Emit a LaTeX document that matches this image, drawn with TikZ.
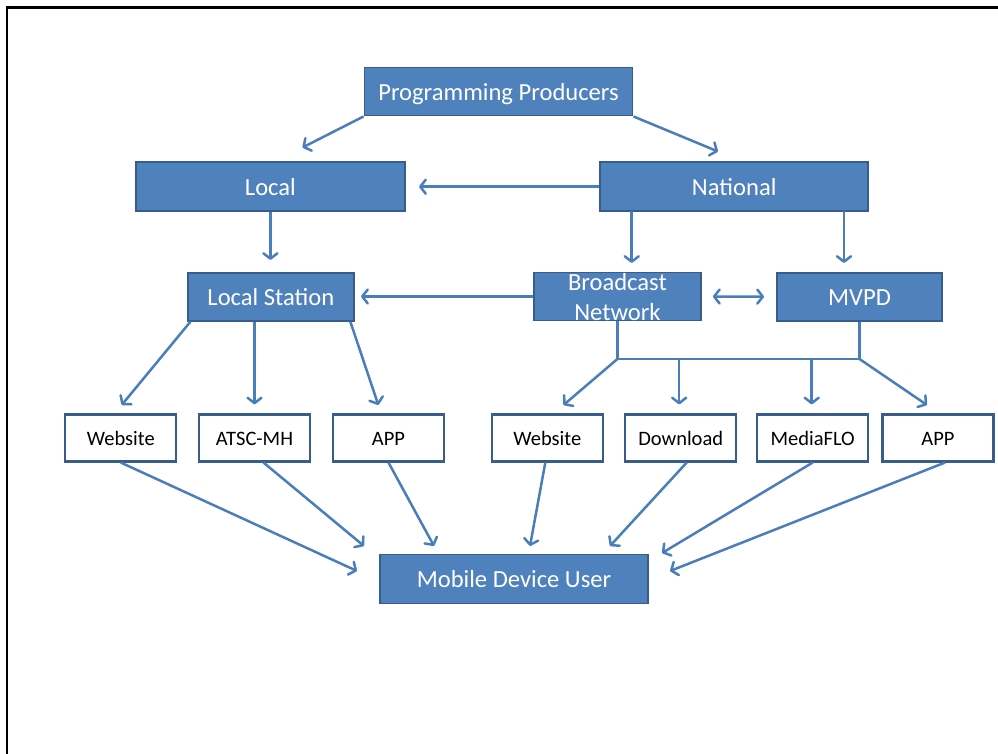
\documentclass[tikz,border=0pt]{standalone}
\usepackage{fontspec}
\setmainfont{Carlito}
\usetikzlibrary{arrows.meta,calc}
\definecolor{boxfill}{RGB}{79,129,189}
\definecolor{boxline}{RGB}{56,93,138}
\definecolor{arrcol}{RGB}{74,126,187}
\tikzset{
  bluebox/.style={draw=boxline, fill=boxfill, line width=1.9pt, inner sep=0pt,
    text=white, font=\fontsize{24.6}{29}\selectfont, text height=19pt, text depth=2pt,
    minimum height=48pt},
  whitebox/.style={draw=boxline, fill=white, line width=2.1pt, inner sep=0pt,
    text=black, font=\fontsize{20.5}{24}\selectfont, text height=16pt, text depth=2pt,
    minimum width=111pt, minimum height=47pt},
  conn/.style={draw=arrcol, line width=2.5pt},
  arr/.style={conn, -{Straight Barb[length=5.5pt,width=14pt,round]}},
  arrboth/.style={conn, {Straight Barb[length=5.5pt,width=14pt,round]}-{Straight Barb[length=5.5pt,width=14pt,round]}},
  bntext/.style={text=white, inner sep=0pt, font=\fontsize{24.6}{29}\selectfont, anchor=base}
}
\begin{document}
\begin{tikzpicture}[x=1pt,y=-1pt]
\useasboundingbox (0,0) rectangle (998,753);
% frame
\draw[line width=2.4pt] (7,760) -- (7,7.6) -- (1005,7.6);

% blue boxes
\node[bluebox, minimum width=268pt] (pp) at (498.5,91.5) {Programming Producers};
\node[bluebox, minimum width=269pt, minimum height=49pt] (local) at (270.4,186.5) {Local};
\node[bluebox, minimum width=268pt, minimum height=49pt] (national) at (734.2,186.7) {National};
\node[bluebox, minimum width=166pt] (ls) at (270.9,296.7) {Local Station};
\node[bluebox, minimum width=167pt] (bn) at (617.4,296.5) {};
\node[bntext] (bn1) at (617.4,290) {Broadcast};
\node[bntext] (bn2) at (617.4,320.7) {Network};
\node[bluebox, minimum width=165pt] (mvpd) at (859.5,296.7) {MVPD};
\node[bluebox, minimum width=268pt, minimum height=49pt] (mdu) at (514,579) {Mobile Device User};

% white boxes
\node[whitebox] (w1) at (120.8,438) {Website};
\node[whitebox] (atsc) at (254.5,438) {ATSC-MH};
\node[whitebox] (app1) at (388.5,438) {APP};
\node[whitebox] (w2) at (547.3,438) {Website};
\node[whitebox] (dl) at (680.7,438) {Download};
\node[whitebox] (mflo) at (812.7,438) {MediaFLO};
\node[whitebox] (app2) at (938,438) {APP};

% free ends
\coordinate (t1) at (302.5,147.5);
\coordinate (t2) at (718,151.5);
\coordinate (t3) at (419,186.7);
\coordinate (t4) at (270.4,260);
\coordinate (t5) at (631.7,263);
\coordinate (t6) at (844,263);
\coordinate (t7) at (361,296.5);
\coordinate (t9) at (121.7,405);
\coordinate (t11) at (378.3,405);
\coordinate (b1) at (617.4,359);
\coordinate (b2) at (859.5,359);
\coordinate (t13) at (563.5,405);
\coordinate (t16) at (927,405);
\coordinate (u1) at (357,571);
\coordinate (u2) at (364,546);
\coordinate (u3) at (434,546);
\coordinate (u4) at (530,546);
\coordinate (u5) at (610,546);
\coordinate (u6) at (662,553);
\coordinate (u7) at (670,571);

% connectors top
\draw[arr] (pp.south west) -- (t1);
\draw[arr] (pp.south east) -- (t2);
\draw[arr] (national.west) -- (t3);
\draw[arr] (local.south) -- (t4);
\draw[arr] (631.7,211.2) -- (t5);
\draw[arr] (844,211.2) -- (t6);
\draw[arr] (bn.west) -- (t7);
\draw[arrboth, shorten <=11pt, shorten >=12pt] (bn.east) -- (mvpd.west);

% local station branches
\draw[arr] ($(ls.south west)+(3.5,0)$) -- (t9);
\draw[arr, shorten >=9pt] (atsc |- ls.south) -- (atsc.north);
\draw[arr] ($(ls.south east)+(-4.5,0)$) -- (t11);

% bus
\draw[conn] (bn.south) -- (b1) -- (b2) -- (mvpd.south);
\draw[arr] (b1) -- (t13);
\draw[arr, shorten >=9pt] ($(dl.north |- b1)+(-1.5,0)$) -- ($(dl.north)+(-1.5,0)$);
\draw[arr, shorten >=9pt] ($(mflo.north |- b1)+(-1,0)$) -- ($(mflo.north)+(-1,0)$);
\draw[arr] (b2) -- (t16);

% to mobile device user
\draw[arr] (w1.south) -- (u1);
\draw[arr] ($(atsc.south)+(9,0)$) -- (u2);
\draw[arr] (app1.south) -- (u3);
\draw[arr] ($(w2.south)+(-2,0)$) -- (u4);
\draw[arr] ($(dl.south)+(6,0)$) -- (u5);
\draw[arr] (mflo.south) -- (u6);
\draw[arr] ($(app2.south)+(7,0)$) -- (u7);
\end{tikzpicture}
\end{document}
